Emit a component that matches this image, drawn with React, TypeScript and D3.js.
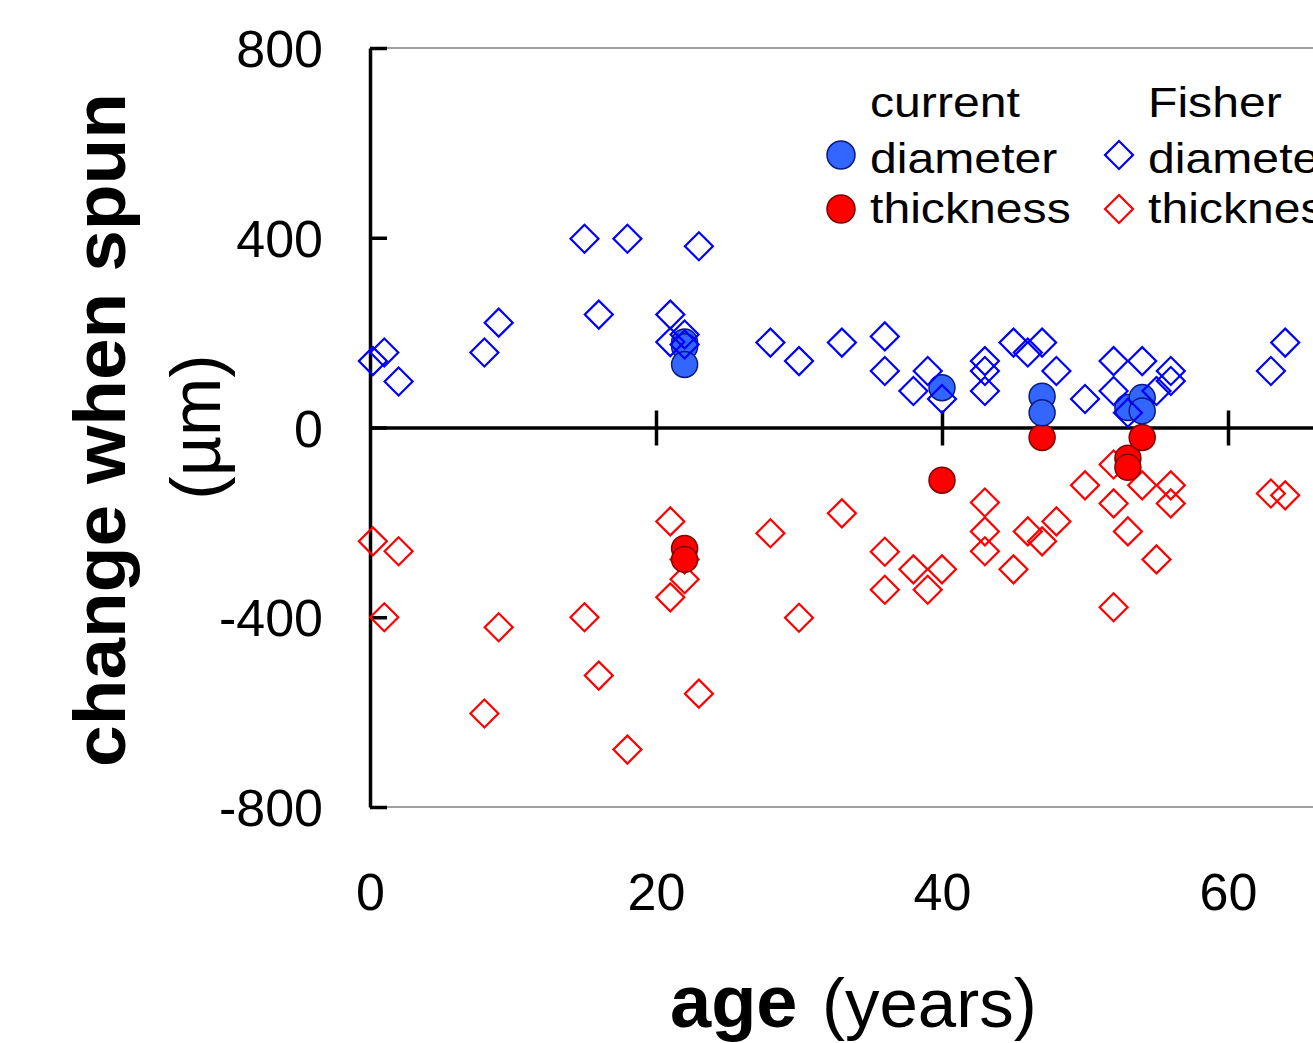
import * as d3 from "d3";
import { useEffect, useRef } from "react";

// [age (years), change when spun (µm)]
const currentDiameter = [
  [22, 180], [22, 170], [22, 133], [40, 84], [47, 66], [47, 31], [53, 42], [54, 63], [54, 35],
];
const currentThickness = [
  [22, -255], [22, -278], [40, -111], [47, -21], [53, -65], [53, -84], [54, -21],
];
const fisherDiameter = [
  [0.2, 140], [1, 158], [2, 97], [8, 158], [9, 221], [15, 398], [16, 238], [18, 398],
  [21, 238], [21, 180], [22, 196], [22, 175], [23, 382], [28, 179], [30, 140], [33, 179],
  [36, 192], [36, 119], [38, 77], [39, 119], [40, 60], [43, 140], [43, 119], [43, 77],
  [45, 179], [46, 158], [47, 179], [48, 119], [50, 60], [52, 140], [52, 77], [53, 31],
  [54, 140], [55, 77], [56, 119], [56, 98], [63, 119], [64, 179],
];
const fisherThickness = [
  [0.2, -240], [1, -400], [2, -261], [8, -603], [9, -421], [15, -400], [16, -523], [18, -679],
  [21, -198], [21, -358], [22, -278], [22, -320], [23, -561], [28, -223], [30, -401], [33, -181],
  [36, -262], [36, -342], [38, -299], [39, -342], [40, -299], [43, -158], [43, -219], [43, -261],
  [45, -299], [46, -219], [47, -240], [48, -198], [50, -122], [52, -78], [52, -160], [52, -379],
  [53, -219], [54, -122], [55, -278], [56, -122], [56, -160], [63, -139], [64, -143],
];
const yTicks = [-800, -400, 0, 400, 800];
const xTicks = [0, 20, 40, 60];

const FONT = "'Liberation Sans', Arial, Helvetica, sans-serif";
const BLUE_FILL = "#3366ff";
const BLUE_EDGE = "#0a1a80";
const RED_FILL = "#ff0000";
const RED_EDGE = "#800000";

const App = () => {
  const svgRef = useRef<SVGSVGElement>(null);

  useEffect(() => {
    drawChart();
  }, []);

  const drawChart = () => {
    const width = 1313;
    const svg = d3.select(svgRef.current);
    svg.selectAll("*").remove();

    const xScale = d3.scaleLinear().domain([0, 80]).range([370, 370 + 80 * 14.3]);
    const yScale = d3.scaleLinear().domain([-800, 800]).range([807, 48]);
    const x0 = xScale(0);

    // plot frame (grey top / bottom)
    [800, -800].forEach((v) => {
      svg
        .append("line")
        .attr("x1", x0)
        .attr("x2", width)
        .attr("y1", yScale(v))
        .attr("y2", yScale(v))
        .attr("stroke", "#a0a0a0")
        .attr("stroke-width", 2);
    });

    // y axis with inward ticks
    const yAxis = svg
      .append("g")
      .attr("transform", `translate(${x0},0)`)
      .call(d3.axisRight(yScale).tickValues(yTicks).tickSize(17).tickSizeOuter(0).tickFormat(() => ""));
    yAxis.select(".domain").attr("stroke", "black").attr("stroke-width", 3.5);
    yAxis.selectAll(".tick line").attr("stroke", "black").attr("stroke-width", 3.5);

    // y tick labels (plain hyphen minus, as in the original)
    const yLabels = svg
      .append("g")
      .attr("transform", `translate(${x0},0)`)
      .call(d3.axisLeft(yScale).tickValues(yTicks).tickSize(0).tickPadding(47).tickFormat((d) => String(d)));
    yLabels.select(".domain").remove();
    yLabels
      .selectAll("text")
      .attr("font-family", FONT)
      .attr("font-size", 52)
      .attr("fill", "black")
      .attr("dy", "0.36em");

    // zero line with ticks crossing it
    const zeroAxis = svg
      .append("g")
      .attr("transform", `translate(0,${yScale(0)})`)
      .call(d3.axisBottom(xScale).tickValues([20, 40, 60]).tickSize(18).tickSizeOuter(0).tickFormat(() => ""));
    zeroAxis.select(".domain").attr("stroke", "black").attr("stroke-width", 3.5);
    zeroAxis.selectAll(".tick line").attr("y1", -17).attr("stroke", "black").attr("stroke-width", 3.5);

    // x tick labels under the plot
    const xLabels = svg
      .append("g")
      .attr("transform", `translate(0,${yScale(-800)})`)
      .call(d3.axisBottom(xScale).tickValues(xTicks).tickSize(0).tickPadding(66).tickFormat((d) => String(d)));
    xLabels.select(".domain").remove();
    xLabels
      .selectAll("text")
      .attr("font-family", FONT)
      .attr("font-size", 52)
      .attr("fill", "black");

    const diamond = d3.symbol().type(d3.symbolSquare).size(392);

    const drawDiamonds = (data: number[][], color: string) => {
      svg
        .append("g")
        .selectAll("path")
        .data(data)
        .enter()
        .append("path")
        .attr("d", diamond)
        .attr("transform", (d) => `translate(${xScale(d[0])},${yScale(d[1])}) rotate(45)`)
        .attr("fill", "none")
        .attr("stroke", color)
        .attr("stroke-width", 2.2);
    };
    const drawCircles = (data: number[][], fill: string, edge: string) => {
      svg
        .append("g")
        .selectAll("circle")
        .data(data)
        .enter()
        .append("circle")
        .attr("cx", (d) => xScale(d[0]))
        .attr("cy", (d) => yScale(d[1]))
        .attr("r", 13)
        .attr("fill", fill)
        .attr("stroke", edge)
        .attr("stroke-width", 1.5);
    };

    drawDiamonds(fisherThickness, "#ff0000");
    drawCircles(currentThickness, RED_FILL, RED_EDGE);
    drawCircles(currentDiameter, BLUE_FILL, BLUE_EDGE);
    drawDiamonds(fisherDiameter, "#0000ff");

    // legend
    const legendText = (x: number, y: number, s: string) => {
      svg
        .append("text")
        .attr("transform", `translate(${x},${y}) scale(1.12,1)`)
        .attr("font-family", FONT)
        .attr("font-size", 43)
        .attr("fill", "black")
        .text(s);
    };
    legendText(870, 117, "current");
    legendText(870, 173, "diameter");
    legendText(870, 223, "thickness");
    legendText(1148, 117, "Fisher");
    legendText(1148, 173, "diameter");
    legendText(1148, 223, "thickness");
    svg.append("circle").attr("cx", 841).attr("cy", 155).attr("r", 14)
      .attr("fill", BLUE_FILL).attr("stroke", BLUE_EDGE).attr("stroke-width", 1.5);
    svg.append("circle").attr("cx", 841).attr("cy", 209).attr("r", 14)
      .attr("fill", RED_FILL).attr("stroke", RED_EDGE).attr("stroke-width", 1.5);
    svg.append("path").attr("d", diamond).attr("transform", "translate(1119,155) rotate(45)")
      .attr("fill", "none").attr("stroke", "#0000ff").attr("stroke-width", 2.2);
    svg.append("path").attr("d", diamond).attr("transform", "translate(1119,209) rotate(45)")
      .attr("fill", "none").attr("stroke", "#ff0000").attr("stroke-width", 2.2);

    // y axis title
    svg
      .append("text")
      .attr("transform", "translate(125,430) rotate(-90)")
      .attr("text-anchor", "middle")
      .attr("font-family", FONT)
      .attr("font-weight", "bold")
      .attr("font-size", 72)
      .attr("textLength", 674)
      .attr("lengthAdjust", "spacingAndGlyphs")
      .text("change when spun");
    svg
      .append("text")
      .attr("transform", "translate(220,427) rotate(-90)")
      .attr("text-anchor", "middle")
      .attr("font-family", FONT)
      .attr("font-size", 70)
      .text("(µm)");

    // x axis title
    svg
      .append("text")
      .attr("x", 670)
      .attr("y", 1027)
      .attr("font-family", FONT)
      .attr("font-weight", "bold")
      .attr("font-size", 74)
      .text("age");
    svg
      .append("text")
      .attr("x", 822)
      .attr("y", 1027)
      .attr("font-family", FONT)
      .attr("font-size", 69)
      .text("(years)");
  };

  return (
    <svg
      ref={svgRef}
      width={1313}
      height={1043}
      style={{ position: "absolute", left: 0, top: 0, background: "white" }}
    />
  );
};

export default App;
